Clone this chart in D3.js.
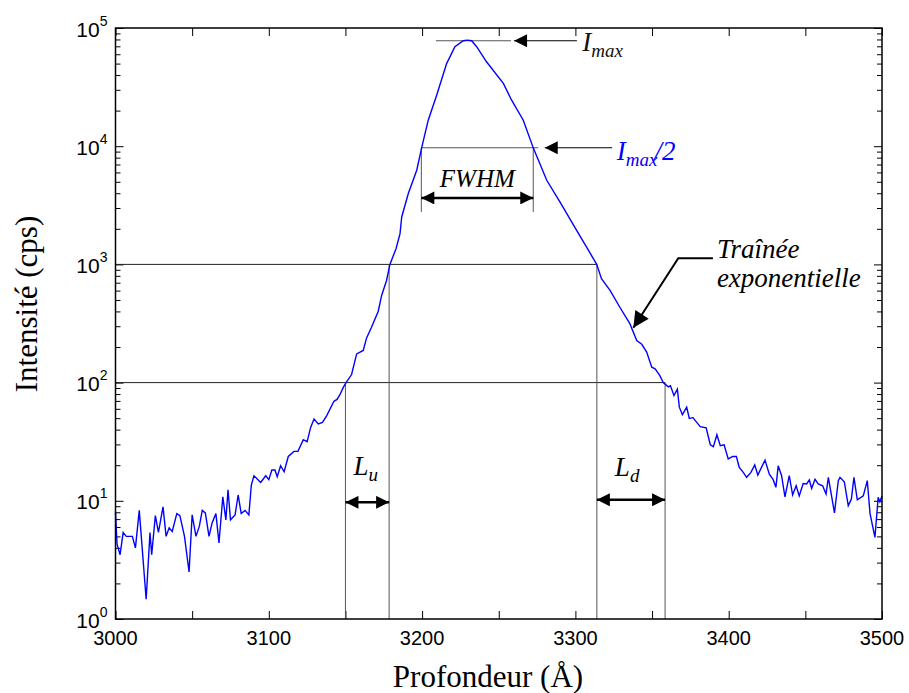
<!DOCTYPE html>
<html>
<head>
<meta charset="utf-8">
<script src="https://cdn.jsdelivr.net/npm/d3@7"></script>
<style>
  body { margin: 0; background: #fff; }
  svg { display: block; }
  .serif { font-family: "Liberation Serif", "Tinos", "Times New Roman", Times, "DejaVu Serif", serif; }
  .sans { font-family: "Liberation Sans", Arimo, Arial, Helvetica, sans-serif; }
</style>
</head>
<body>
<svg id="chart" width="909" height="693"></svg>
<script>
// depth profile (Å) and intensity (cps)
const depth = [3000, 3001, 3003, 3005, 3007, 3011, 3013, 3015.5, 3020, 3022.5, 3023.6, 3026, 3028, 3031, 3033, 3035, 3037, 3040, 3042, 3045,
  3048, 3050, 3052.5, 3054.7, 3056.6, 3058.6, 3061, 3063, 3065.5, 3067.5, 3070, 3072, 3073.4, 3075, 3078, 3080, 3082, 3084.5, 3087, 3088.6,
  3090.3, 3094.7, 3098, 3100, 3102, 3104, 3105.5, 3107.7, 3110, 3112.7, 3116.4, 3119, 3122.5, 3125, 3127.3, 3129.5, 3132.3, 3135, 3137.8, 3142.5,
  3144.5, 3146.4, 3148.6, 3150.4, 3154, 3157.3, 3161.6, 3163.8, 3167, 3171.4, 3173.6, 3176.8, 3179, 3183, 3185.6, 3186.7, 3191, 3196.5, 3199.7, 3204,
  3209.5, 3216, 3221.4, 3226.9, 3229.5, 3232.3, 3235.6, 3242, 3253, 3258.4, 3266, 3272.5, 3281.3, 3290, 3300.8, 3307.3, 3313.9, 3317, 3322.6, 3329,
  3335.6, 3340, 3343.3, 3346.5, 3349.8, 3352, 3355, 3357.3, 3360.6, 3362, 3364.3, 3366.5, 3367.8, 3369.8, 3372.6, 3374.3, 3376.7, 3381.4, 3385.3, 3388,
  3390, 3392.3, 3394.5, 3397, 3399.7, 3402.6, 3405, 3406.9, 3409.5, 3411.7, 3414.5, 3417, 3419, 3423.7, 3426.5, 3429, 3430.8, 3432.3, 3434.5, 3436.7,
  3439.5, 3441.7, 3444, 3446, 3448.6, 3450.8, 3452.6, 3454.1, 3456.3, 3458.4, 3461.3, 3463.5, 3465, 3469, 3471.5, 3472.6, 3475.4, 3478, 3480, 3481.7,
  3483.9, 3487.8, 3490.4, 3492.2, 3495.4, 3497.5, 3498.6, 3500];
const counts = [7.9, 4.3, 3.5, 5.4, 5.0, 5.0, 4.0, 8.3, 1.47, 5.4, 3.5, 7.5, 5.4, 8.9, 5.0, 5.9, 5.5, 7.8, 7.5, 5.0,
  2.5, 7.6, 5.0, 6.1, 8.3, 7.9, 5.0, 6.5, 7.8, 4.4, 10.8, 6.9, 12.4, 6.9, 7.6, 11.2, 7.8, 8.3, 7.6, 13.6,
  16.3, 14.3, 16.3, 15.1, 18.2, 18.2, 16.0, 19.8, 17.6, 23.7, 26.2, 26.2, 32.9, 31.6, 41.8, 49.2, 44.7, 46, 52.5, 69.5,
  72, 79, 91, 100, 117, 175, 187, 239, 294, 402, 546, 731, 1000, 1358, 1820, 2520, 3980, 6260, 9680, 16600,
  27000, 50000, 69500, 78000, 79000, 78000, 69500, 51800, 34000, 24500, 16600, 9680, 5150, 3370, 1940, 1400, 1000, 757, 602, 434,
  314, 227, 211, 181, 135, 131, 115, 100, 92, 94, 77.6, 88, 62, 53.5, 62, 49.8, 50.5, 42.4, 41.4, 29.8,
  28.7, 36.2, 29.3, 29.8, 22.6, 23.7, 23.7, 19.2, 17.4, 15.8, 17.4, 20.1, 16.5, 22.1, 16.8, 15.1, 13.0, 19.8, 16.3, 10.8,
  16.3, 11.2, 13.4, 11.0, 14.0, 13.9, 15.0, 12.7, 15.2, 13.9, 13.4, 11.4, 15.8, 7.9, 14.8, 15.8, 14.5, 9.1, 10.3, 15.8,
  10.2, 11.0, 14.8, 7.8, 4.9, 10.7, 9.8, 11.0];

const xTicks = [3000, 3050, 3100, 3150, 3200, 3250, 3300, 3350, 3400, 3450, 3500];
const xLabels = [3000, 3100, 3200, 3300, 3400, 3500];
const decades = [1, 10, 100, 1000, 10000, 100000];
const exponents = ["0", "1", "2", "3", "4", "5"];

// annotation values (data space)
const imax = 78000, imaxHalf = 9700;
const imaxLine = [3209, 3258], imaxArrow = [3301, 3260];
const halfArrow = [3324, 3280];
const fwhm = [3199.5, 3272.5];
const lu = [3150, 3178.5], ld = [3314, 3358.5];
const levels = [100, 1000];

const margin = {top: 28, right: 27, bottom: 74, left: 115.5};
const width = 909 - margin.left - margin.right,
      height = 693 - margin.top - margin.bottom;

const svg = d3.select("#chart");
const g = svg.append("g").attr("transform", `translate(${margin.left},${margin.top})`);

const x = d3.scaleLinear().domain([3000, 3500]).range([0, width]);
const y = d3.scaleLog().domain([1, 100000]).range([height, 0]);

const minor = [];
decades.slice(0, -1).forEach(d => { for (let k = 2; k <= 9; k++) minor.push(d * k); });

// ticks, all pointing inward
g.append("g").attr("transform", `translate(0,${height})`)
  .call(d3.axisBottom(x).tickValues(xTicks).tickSize(-8).tickFormat(""));
g.append("g")
  .call(d3.axisTop(x).tickValues(xTicks).tickSize(-8).tickFormat(""));
g.append("g").call(d3.axisLeft(y).tickValues(decades).tickSize(-8).tickFormat(""));
g.append("g").call(d3.axisLeft(y).tickValues(minor).tickSize(-5).tickFormat(""));
g.append("g").attr("transform", `translate(${width},0)`)
  .call(d3.axisRight(y).tickValues(decades).tickSize(-8).tickFormat(""));
g.append("g").attr("transform", `translate(${width},0)`)
  .call(d3.axisRight(y).tickValues(minor).tickSize(-5).tickFormat(""));
g.selectAll(".domain").remove();
g.selectAll(".tick line").attr("stroke", "#000").attr("stroke-width", 1);

// tick labels
g.selectAll(".xlab").data(xLabels).join("text")
  .attr("class", "sans")
  .attr("x", d => x(d)).attr("y", height + 26)
  .attr("text-anchor", "middle")
  .style("font-size", "20px")
  .text(d => d);

const ylab = g.selectAll(".ylab").data(decades).join("text")
  .attr("class", "sans")
  .attr("x", -8).attr("y", d => y(d) + 8.5)
  .attr("text-anchor", "end");
ylab.append("tspan").style("font-size", "21px").text("10");
ylab.append("tspan").style("font-size", "14px").attr("dy", -11).text((d, i) => exponents[i]);

// axis titles
svg.append("text").attr("class", "serif")
  .attr("x", 488).attr("y", 687)
  .attr("text-anchor", "middle")
  .style("font-size", "31px")
  .text("Profondeur (Å)");
svg.append("text").attr("class", "serif")
  .attr("transform", "translate(37,304) rotate(-90)")
  .attr("text-anchor", "middle")
  .style("font-size", "31px")
  .text("Intensité (cps)");

// arrow markers
const defs = svg.append("defs");
function marker(id, w, h) {
  defs.append("marker").attr("id", id)
    .attr("viewBox", "0 0 10 10").attr("refX", 10).attr("refY", 5)
    .attr("markerUnits", "userSpaceOnUse")
    .attr("markerWidth", w).attr("markerHeight", h)
    .attr("orient", "auto-start-reverse")
    .append("path").attr("d", "M0,0L10,5L0,10z").attr("fill", "#000");
}
marker("head", 15, 13);
marker("headBig", 18, 16);

const ann = g.append("g");
const thin = "#555";

// level lines at 10^3 and 10^2 with their drop lines
ann.append("line").attr("x1", 0).attr("x2", x(ld[0])).attr("y1", y(levels[1])).attr("y2", y(levels[1]))
  .attr("stroke", "#222");
ann.append("line").attr("x1", 0).attr("x2", x(ld[1])).attr("y1", y(levels[0])).attr("y2", y(levels[0]))
  .attr("stroke", "#222");
[[lu[1], levels[1]], [ld[0], levels[1]], [lu[0], levels[0]], [ld[1], levels[0]]].forEach(([d, v]) => {
  ann.append("line").attr("x1", x(d)).attr("x2", x(d)).attr("y1", y(v)).attr("y2", height)
    .attr("stroke", thin);
});

// Imax
ann.append("line").attr("x1", x(imaxLine[0])).attr("x2", x(imaxLine[1]))
  .attr("y1", y(imax)).attr("y2", y(imax)).attr("stroke", thin);
ann.append("line").attr("x1", x(imaxArrow[0])).attr("x2", x(imaxArrow[1]))
  .attr("y1", y(imax)).attr("y2", y(imax)).attr("stroke", "#000")
  .attr("marker-end", "url(#head)");

// Imax/2 and FWHM
ann.append("line").attr("x1", x(fwhm[0])).attr("x2", x(fwhm[1]) + 5)
  .attr("y1", y(imaxHalf)).attr("y2", y(imaxHalf)).attr("stroke", thin);
ann.append("line").attr("x1", x(halfArrow[0])).attr("x2", x(halfArrow[1]))
  .attr("y1", y(imaxHalf)).attr("y2", y(imaxHalf)).attr("stroke", "#000")
  .attr("marker-end", "url(#head)");
fwhm.forEach(d => {
  ann.append("line").attr("x1", x(d)).attr("x2", x(d))
    .attr("y1", y(imaxHalf)).attr("y2", y(2780)).attr("stroke", thin);
});

function dbl(a, b, v) {
  ann.append("line").attr("x1", x(a)).attr("x2", x(b)).attr("y1", y(v)).attr("y2", y(v))
    .attr("stroke", "#000").attr("stroke-width", 2.5)
    .attr("marker-start", "url(#head)").attr("marker-end", "url(#head)");
}
dbl(fwhm[0], fwhm[1], 3650);
dbl(lu[0], lu[1], 9.7);
dbl(ld[0], ld[1], 10.2);

// exponential tail leader
ann.append("path")
  .attr("d", d3.line()([[x(3389.7), y(1130)], [x(3367.1), y(1130)], [x(3337.8), y(291)]]))
  .attr("fill", "none").attr("stroke", "#000").attr("stroke-width", 2)
  .attr("marker-end", "url(#headBig)");

// data curve
g.append("path")
  .datum(d3.zip(depth, counts))
  .attr("fill", "none").attr("stroke", "#0000ff").attr("stroke-width", 1.4)
  .attr("d", d3.line().x(d => x(d[0])).y(d => y(d[1])));

// frame
g.append("rect").attr("width", width).attr("height", height)
  .attr("fill", "none").attr("stroke", "#000").attr("stroke-width", 1.5);

// annotation labels
function label(px, py, main, sub, rest, color) {
  const t = ann.append("text").attr("class", "serif").attr("x", px).attr("y", py)
    .style("font-style", "italic").style("font-size", "27px")
    .attr("fill", color || "#000");
  t.append("tspan").text(main);
  if (sub) t.append("tspan").style("font-size", "19px").attr("dy", 6).text(sub);
  if (rest) t.append("tspan").attr("dy", -6).attr("dx", -3).text(rest);
  return t;
}
label(x(3304.5), y(imax) + 10, "I", "max", null, "#111");
label(x(3327), y(imaxHalf) + 12, "I", "max", "/2", "#0000ff");
label((x(fwhm[0]) + x(fwhm[1])) / 2, y(3650) - 11, "FWHM").attr("text-anchor", "middle").style("font-size", "25px");
label(x(lu[0]) + 8, y(9.7) - 27, "L", "u");
label(x(ld[0]) + 18, y(10.2) - 24, "L", "d");
label(x(3392.3), y(1130), "Traînée");
label(x(3392.3), y(1130) + 29, "exponentielle");
</script>
</body>
</html>
